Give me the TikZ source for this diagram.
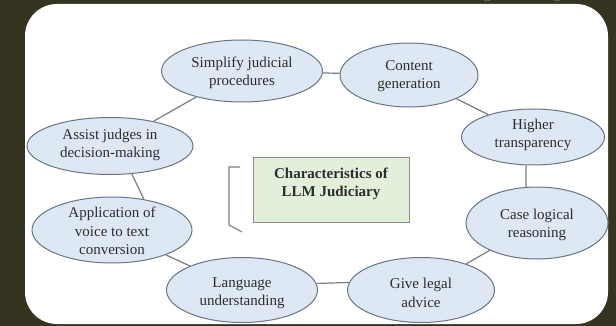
\documentclass[tikz,border=0pt]{standalone}
\usepackage{fontspec}
\setmainfont{Liberation Serif}
\usetikzlibrary{shapes.geometric}
\definecolor{bgdark}{RGB}{52,52,33}
\definecolor{ellfill}{RGB}{221,232,244}
\definecolor{elldraw}{RGB}{105,116,132}
\definecolor{linec}{RGB}{120,126,134}
\definecolor{txtc}{RGB}{45,45,45}
\definecolor{boxfill}{RGB}{226,239,218}
\definecolor{boxdraw}{RGB}{140,140,140}
\tikzset{
  ell/.style={ellipse, draw=elldraw, fill=ellfill, line width=1pt, inner sep=0pt},
  lbl/.style={align=center, text=txtc, inner sep=0pt, font=\fontsize{15}{18.5}\selectfont},
  conn/.style={draw=linec, line width=1.2pt},
  mainbox/.style={rectangle, draw=boxdraw, fill=boxfill, line width=1pt, minimum width=156pt, minimum height=64pt, inner sep=0pt},
}
\begin{document}
\begin{tikzpicture}[x=1pt,y=-1pt]
\fill[bgdark] (0,0) rectangle (616,326);
\useasboundingbox (0,0) rectangle (616,326);
\fill[white, rounded corners=32pt] (25,4) rectangle (608,324);
% cut-off text fragments at the top
\begin{scope}
\clip (0,0) rectangle (616,6);
\node[lbl, text=gray, anchor=base] (frag1) at (487,-1) {g};
\node[lbl, text=gray, anchor=base] (frag2) at (557,-1) {g};
\end{scope}
% ellipses
\node[ell, minimum width=161pt, minimum height=62pt] (simp) at (242,71) {};
\node[ell, minimum width=138pt, minimum height=64pt] (cont) at (409,75) {};
\node[ell, minimum width=143pt, minimum height=56pt] (high) at (533,137) {};
\node[ell, minimum width=142pt, minimum height=72pt] (case) at (537,223) {};
\node[ell, minimum width=147pt, minimum height=65pt] (give) at (421,290) {};
\node[ell, minimum width=151pt, minimum height=65pt] (lang) at (242,290) {};
\node[ell, minimum width=160pt, minimum height=66pt] (appl) at (112,230) {};
\node[ell, minimum width=166pt, minimum height=57pt] (assi) at (110,146) {};
% texts
\node[lbl] (simpt) at (242,73) {Simplify judicial\\procedures};
\node[lbl] (contt) at (409,76) {Content\\generation};
\node[lbl] (hight) at (533,135) {Higher\\transparency};
\node[lbl] (caset) at (537,225) {Case logical\\reasoning};
\node[lbl] (givet) at (421,293) {Give legal\\advice};
\node[lbl] (langt) at (242,293) {Language\\understanding};
\node[lbl] (applt) at (112,231) {Application of\\voice to text\\conversion};
\node[lbl] (assit) at (110,145) {Assist judges in\\decision-making};
% connectors
\draw[conn] (simp) -- (cont);
\draw[conn] (cont) -- (high);
\draw[conn] (high.-104) -- (case.107);
\draw[conn] (case) -- (give);
\draw[conn] (give.174.5) -- (lang.5.4);
\draw[conn] (lang) -- (appl);
\draw[conn] (appl.44) -- (assi.-52);
\draw[conn] (assi) -- (simp);
% central box
\node[mainbox] (core) at (331,190) {};
\node[lbl, font=\fontsize{15}{18.5}\selectfont\bfseries] (coret) at (331,184) {Characteristics of\\LLM Judiciary};
% bracket
\coordinate (b1) at (240,167);
\coordinate (b2) at (229,167);
\coordinate (b3) at (229,225);
\coordinate (b4) at (242,232);
\draw[draw=linec, line width=1.1pt] (b1) -- (b2) -- (b3) -- (b4);
\end{tikzpicture}
\end{document}
